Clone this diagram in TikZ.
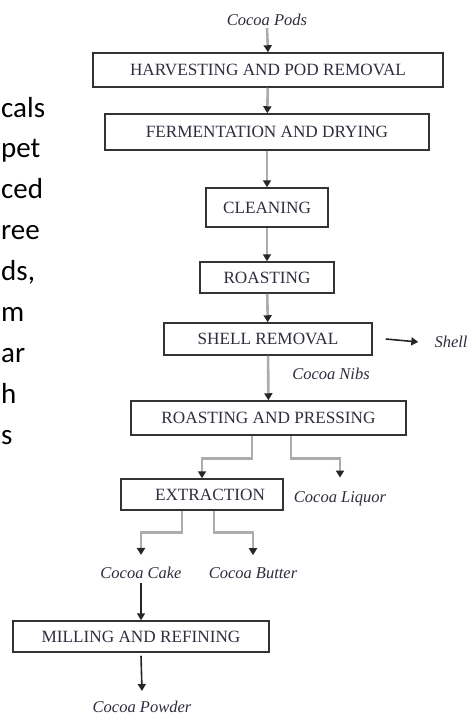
\documentclass[tikz,border=0pt]{standalone}
\usepackage{fontspec}
\setmainfont{Liberation Serif}
\newfontfamily\sidefont{Carlito}
\usepackage{tikz}
\usetikzlibrary{arrows.meta,calc,positioning}
\definecolor{inkc}{RGB}{45,45,62}

\begin{document}
\begin{tikzpicture}[
  x=1pt, y=-1pt,
  stage/.style={rectangle, draw=black!80, line width=1.5pt, text=inkc, inner sep=0pt, font=\fontsize{17.2}{19}\selectfont},
  product/.style={text=inkc, inner sep=1pt, font=\fontsize{16.5}{18}\selectfont\itshape},
  flow/.style={gray!65, line width=2.6pt, -{Triangle[black!85, length=7pt, width=8pt]}},
  outflow/.style={black!85, line width=1.6pt, -{Triangle[black!85, length=7pt, width=8pt]}},
  side/.style={anchor=base west, inner sep=0pt, font=\sidefont\fontsize{29}{34}\selectfont}
]
  \useasboundingbox (0,0) rectangle (476,715);
  % paragraph cut off at the left
  \foreach \w [count=\i] in {cals,pet,ced,ree,{ds,},m,ar,h,s}
    \node[side] (side\i) at (1,{117+40.9*(\i-1)}) {\w};
  % stages
  \node[stage, minimum width=350pt, minimum height=34pt] (harvest)  at (268, 70)    {HARVESTING AND POD REMOVAL};
  \node[stage, minimum width=324pt, minimum height=36pt] (ferment)  at (267, 132)   {FERMENTATION AND DRYING};
  \node[stage, minimum width=122pt, minimum height=39pt] (clean)    at (267, 207.5) {CLEANING};
  \node[stage, minimum width=134pt, minimum height=31pt] (roast)    at (267, 277.5) {ROASTING};
  \node[stage, minimum width=208pt, minimum height=32pt] (shellrem) at (268, 339)   {SHELL REMOVAL};
  \node[stage, minimum width=275pt, minimum height=34pt] (press)    at (268.5, 418) {ROASTING AND PRESSING};
  \node[stage, minimum width=162pt, minimum height=31pt] (extract)  at (202, 494.5) {\hspace*{16pt}EXTRACTION};
  \node[stage, minimum width=256pt, minimum height=31pt] (mill)     at (141, 636.5) {MILLING AND REFINING};
  % products
  \node[product] (pods)   at (267, 20)  {Cocoa Pods};
  \node[product] (shell)  at (451, 342) {Shell};
  \node[product] (nibs)   at (331, 374) {Cocoa Nibs};
  \node[product] (liquor) at (340, 499) {Cocoa Liquor};
  \node[product] (cake)   at (141, 573) {Cocoa Cake};
  \node[product] (butter) at (253, 573) {Cocoa Butter};
  \node[product] (powder) at (142, 707) {Cocoa Powder};
  % main line
  \draw[flow] ([yshift=-1pt]pods.south) -- (harvest.north);
  \draw[flow] (harvest) -- (ferment);
  \draw[flow] (ferment) -- (clean);
  \draw[flow] (clean) -- (roast);
  \draw[flow] (roast) -- (shellrem);
  \draw[flow] (shellrem) -- (press);
  \draw[outflow] ([xshift=13pt]shellrem.east) -- ([xshift=-15pt]shell.west);
  % branches
  \draw[flow] ([xshift=-16.5pt]press.south) -- ++(0,23) -| (extract.north);
  \draw[flow] ([xshift=22.5pt]press.south) -- ++(0,23) -| ([yshift=13pt]liquor.north);
  \draw[flow] ([xshift=-20pt]extract.south) -- ++(0,22) -| ([yshift=11pt]cake.north);
  \draw[flow] ([xshift=12pt]extract.south) -- ++(0,22) -| ([yshift=11pt]butter.north);
  \draw[outflow] ([yshift=-3pt]cake.south) -- (mill.north);
  \draw[outflow] ([yshift=-3pt]mill.south) -- ([yshift=9pt]powder.north);
\end{tikzpicture}
\end{document}
